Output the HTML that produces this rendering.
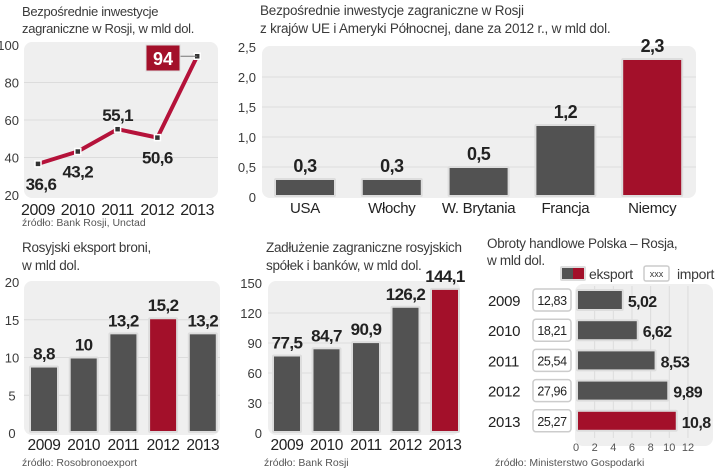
<!DOCTYPE html>
<html><head><meta charset="utf-8"><style>
html,body{margin:0;padding:0;background:#fff;}
svg{display:block;font-family:"Liberation Sans",sans-serif;}
</style></head><body>
<svg id="s" width="720" height="471" viewBox="0 0 720 471"></svg>
<script>
// Chart 1: FDI line
const lineYears=["2009","2010","2011","2012","2013"];
const lineVals=[36.6,43.2,55.1,50.6,94];
const lineLabels=["36,6","43,2","55,1","50,6","94"];
const lineTicks=[20,40,60,80,100];
// Chart 2: FDI by country
const ctyCats=["USA","Włochy","W. Brytania","Francja","Niemcy"];
const ctyVals=[0.3,0.3,0.5,1.2,2.3];
const ctyLabels=["0,3","0,3","0,5","1,2","2,3"];
const ctyTicks=[0,0.5,1,1.5,2,2.5];
const ctyTickLabels=["0","0,5","1,0","1,5","2,0","2,5"];
// Chart 3: arms export
const armYears=["2009","2010","2011","2012","2013"];
const armVals=[8.8,10,13.2,15.2,13.2];
const armLabels=["8,8","10","13,2","15,2","13,2"];
const armTicks=[0,5,10,15,20];
// Chart 4: debt
const debtYears=["2009","2010","2011","2012","2013"];
const debtVals=[77.5,84.7,90.9,126.2,144.1];
const debtLabels=["77,5","84,7","90,9","126,2","144,1"];
const debtTicks=[0,30,60,90,120,150];
// Chart 5: trade
const tradeYears=["2009","2010","2011","2012","2013"];
const exportVals=[5.02,6.62,8.53,9.89,10.8];
const exportLabels=["5,02","6,62","8,53","9,89","10,8"];
const importLabels=["12,83","18,21","25,54","27,96","25,27"];
const tradeTicks=[0,2,4,6,8,10,12];

const S=document.getElementById('s');
const NS="http://www.w3.org/2000/svg";
const GREY="#525252",RED="#a3102a",TXT="#3a3a3a",PANEL="#efefef",GRID="#dcdcdc";
function mk(tag,attrs,text){const e=document.createElementNS(NS,tag);for(const k in attrs)e.setAttribute(k,attrs[k]);if(text!==undefined)e.textContent=text;S.appendChild(e);return e;}
function txt(x,y,t,size,opts){opts=opts||{};const e=mk('text',{x:x,y:y,'font-size':size,fill:opts.fill||TXT,'font-weight':opts.bold?'bold':'normal','text-anchor':opts.anchor||'start'},t);if(opts.ls!==undefined)e.setAttribute('letter-spacing',opts.ls);return e;}
function nm(e,n){
return e;}
const VL={bold:true,anchor:'middle',fill:'#222',ls:-0.6};
const YL={anchor:'middle',fill:'#222',ls:-0.4};

// ===== Chart 1 =====
nm(txt(22,16,"Bezpośrednie inwestycje",13,{ls:-0.3}),'line-chart-title');
nm(txt(22,33,"zagraniczne w Rosji, w mld dol.",13,{ls:-0.3}),'line-chart-subtitle');
nm(mk('rect',{x:24,y:42,width:194,height:156,rx:8,fill:PANEL}),'line-plot-area');
const ly=v=>195-(v-20)*150/80, lx=i=>38+i*39.8;
lineTicks.forEach(t=>{
  if(t>20&&t<100)nm(mk('line',{x1:24,x2:218,y1:ly(t),y2:ly(t),stroke:GRID,'stroke-width':1}),'line-gridline');
  nm(txt(19,ly(t)+5,String(t),13,{anchor:'end'}),'line-y-tick');
});
nm(mk('polyline',{points:lineVals.map((v,i)=>lx(i)+','+ly(v)).join(' '),fill:'none',stroke:'#b5123a','stroke-width':4,'stroke-linejoin':'round'}),'fdi-line');
lineVals.forEach((v,i)=>{
  nm(mk('rect',{x:lx(i)-3,y:ly(v)-3,width:6,height:6,fill:'#333',stroke:'#fff','stroke-width':1.5}),'fdi-point');
  nm(txt(lx(i),215,lineYears[i],16,YL),'line-x-label');
});
lineVals.forEach((v,i)=>{
  if(i===4){
    nm(mk('line',{x1:180,x2:lx(i),y1:ly(v),y2:ly(v),stroke:'#777','stroke-width':1}),'label-leader');
    nm(mk('rect',{x:146,y:45,width:34,height:26,fill:RED,stroke:'#ddd','stroke-width':1}),'label-box-94');
    nm(txt(163,65,lineLabels[i],18,{bold:true,fill:'#fff',anchor:'middle'}),'value-label');
  } else {
    const above=(i===2);
    nm(txt(lx(i)+(i===0?3:0),above?ly(v)-8:ly(v)+26,lineLabels[i],17,VL),'value-label');
  }
});
nm(txt(22,226,"źródło: Bank Rosji, Unctad",10.5,{fill:'#555'}),'line-source');

// ===== Chart 2 =====
nm(txt(260,15,"Bezpośrednie inwestycje zagraniczne w Rosji",13.5,{ls:-0.2}),'country-chart-title');
nm(txt(260,33,"z krajów UE i Ameryki Północnej, dane za 2012 r., w mld dol.",13.5,{ls:-0.2}),'country-chart-subtitle');
nm(mk('rect',{x:262,y:46,width:434,height:152,rx:8,fill:PANEL}),'country-plot-area');
const cy=v=>197-v*60, cx=i=>305+i*86.8;
ctyTicks.forEach((t,k)=>{
  if(t>0&&t<2.5)nm(mk('line',{x1:262,x2:696,y1:cy(t),y2:cy(t),stroke:GRID}),'country-gridline');
  nm(txt(256,cy(t)+5,ctyTickLabels[k],13,{anchor:'end'}),'country-y-tick');
});
ctyVals.forEach((v,i)=>{
  nm(mk('rect',{x:cx(i)-31,y:cy(v)-1,width:62,height:v*60+1,rx:2,fill:'#ddd'}),'bar-outline');
  nm(mk('rect',{x:cx(i)-29,y:cy(v)+1,width:58,height:v*60-3,fill:i===4?RED:GREY}),'bar-'+ctyCats[i].toLowerCase().replace(/[^a-z]/g,''));
  nm(txt(cx(i),cy(v)-7,ctyLabels[i],18,VL),'country-value-label');
  nm(txt(cx(i),213,ctyCats[i],15,{anchor:'middle',fill:'#222',ls:-0.3}),'country-x-label');
});

// ===== Chart 3 =====
nm(txt(22,252,"Rosyjski eksport broni,",13.5,{ls:-0.3}),'arms-chart-title');
nm(txt(22,270,"w mld dol.",13.5,{ls:-0.3}),'arms-chart-subtitle');
nm(mk('rect',{x:24,y:281,width:196,height:154,rx:8,fill:PANEL}),'arms-plot-area');
const ay=v=>433-v*7.55, ax=i=>44+i*39.7;
armTicks.forEach(t=>{
  if(t>0&&t<20)nm(mk('line',{x1:24,x2:220,y1:ay(t),y2:ay(t),stroke:GRID}),'arms-gridline');
  nm(txt(12,ay(t)+5,String(t),13,{anchor:'middle'}),'arms-y-tick');
});
armVals.forEach((v,i)=>{
  nm(mk('rect',{x:ax(i)-15,y:ay(v)-1,width:30,height:v*7.55+1,rx:2,fill:'#ddd'}),'bar-outline');
  nm(mk('rect',{x:ax(i)-13,y:ay(v)+1,width:26,height:v*7.55-3,fill:i===3?RED:GREY}),'arms-bar-'+armYears[i]);
  nm(txt(ax(i),ay(v)-7,armLabels[i],17,VL),'arms-value-label');
  nm(txt(ax(i),450,armYears[i],15.5,YL),'arms-x-label');
});
nm(txt(22,466,"źródło: Rosobronoexport",10.5,{fill:'#555'}),'arms-source');

// ===== Chart 4 =====
nm(txt(266,252,"Zadłużenie zagraniczne rosyjskich",13.5,{ls:-0.3}),'debt-chart-title');
nm(txt(266,270,"spółek i banków, w mld dol.",13.5,{ls:-0.3}),'debt-chart-subtitle');
nm(mk('rect',{x:268,y:281,width:192,height:154,rx:8,fill:PANEL}),'debt-plot-area');
const dy=v=>433-v*1.0, dx=i=>287+i*39.5;
debtTicks.forEach(t=>{
  if(t>0&&t<150)nm(mk('line',{x1:268,x2:460,y1:dy(t),y2:dy(t),stroke:GRID}),'debt-gridline');
  nm(txt(262,dy(t)+5,String(t),13,{anchor:'end'}),'debt-y-tick');
});
debtVals.forEach((v,i)=>{
  nm(mk('rect',{x:dx(i)-15,y:dy(v)-1,width:30,height:v+1,rx:2,fill:'#ddd'}),'bar-outline');
  nm(mk('rect',{x:dx(i)-13,y:dy(v)+1,width:26,height:v-3,fill:i===4?RED:GREY}),'debt-bar-'+debtYears[i]);
  nm(txt(dx(i),dy(v)-7,debtLabels[i],17,VL),'debt-value-label');
  nm(txt(dx(i),450,debtYears[i],15.5,YL),'debt-x-label');
});
nm(txt(264,466,"źródło: Bank Rosji",10.5,{fill:'#555'}),'debt-source');

// ===== Chart 5 =====
nm(txt(487,248,"Obroty handlowe Polska – Rosja,",13.5,{ls:-0.3}),'trade-chart-title');
nm(txt(487,265,"w mld dol.",13.5,{ls:-0.3}),'trade-chart-subtitle');
nm(mk('rect',{x:560,y:266,width:26,height:15,rx:2,fill:'#ddd'}),'legend-export-swatch-border');
nm(mk('rect',{x:562,y:268,width:11,height:11,fill:GREY}),'legend-export-swatch-grey');
nm(mk('rect',{x:573,y:268,width:11,height:11,fill:RED}),'legend-export-swatch-red');
nm(txt(589,279,"eksport",14,{ls:-0.3}),'legend-export-label');
nm(mk('rect',{x:644,y:266,width:25,height:15,rx:2,fill:'#fff',stroke:'#ccc','stroke-width':1.5}),'legend-import-swatch');
nm(txt(656.5,277,"xxx",9,{anchor:'middle'}),'legend-import-xxx');
nm(txt(677,279,"import",14,{ls:-0.3}),'legend-import-label');
nm(mk('rect',{x:575,y:284,width:138,height:162,rx:8,fill:PANEL}),'trade-plot-area');
const tx=v=>576+v*9.33, ty=i=>300+i*30.2;
tradeTicks.forEach(t=>{
  if(t>0)nm(mk('line',{x1:tx(t),x2:tx(t),y1:286,y2:438,stroke:GRID}),'trade-gridline');
  nm(txt(tx(t),451,String(t),11,{anchor:'middle',fill:'#555'}),'trade-x-tick');
});
exportVals.forEach((v,i)=>{
  nm(txt(488,ty(i)+6,tradeYears[i],15,{fill:'#222',ls:-0.3}),'trade-year-label');
  nm(mk('rect',{x:533,y:ty(i)-11,width:38,height:22,rx:3,fill:'#fff',stroke:'#ccc','stroke-width':1.5}),'import-box');
  nm(txt(552,ty(i)+5,importLabels[i],12.5,{anchor:'middle',fill:'#222',ls:-0.4}),'import-value');
  nm(mk('rect',{x:576,y:ty(i)-11,width:v*9.33+1,height:22,rx:2,fill:'#ddd'}),'bar-outline');
  nm(mk('rect',{x:578,y:ty(i)-9,width:v*9.33-3,height:18,fill:i===4?RED:GREY}),'export-bar-'+tradeYears[i]);
  nm(txt(tx(v)+5,ty(i)+7,exportLabels[i],16,{bold:true,fill:'#222',ls:-0.6}),'export-value-label');
});
nm(txt(495,466,"źródło: Ministerstwo Gospodarki",10.5,{fill:'#555'}),'trade-source');
</script>
</body></html>
